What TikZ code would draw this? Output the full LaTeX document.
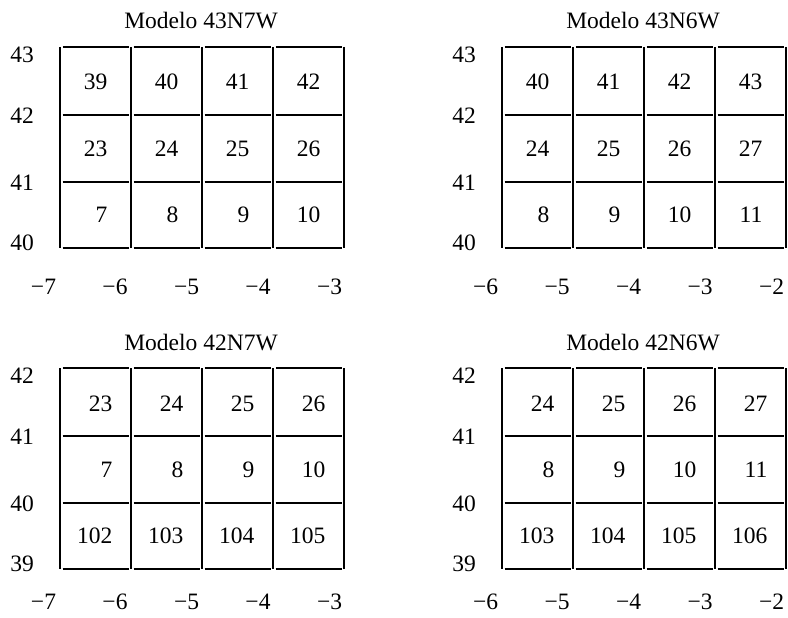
\documentclass[tikz,border=0pt]{standalone}
\usepackage{fontspec}
\setmainfont{Liberation Serif}
\tikzset{
  lbl/.style={font=\fontsize{23.5}{28}\selectfont, inner sep=0pt, anchor=base},
  num/.style={lbl, anchor=base east},
  gridline/.style={line width=1.3pt, black},
}
% #1 prefix, #2 xoff, #3 yoff, #4 title, #5 top y label, #6 first x label (abs), #7 numbers, #8 number offset, #9 x label baseline
\newcommand\mypanel[9]{%
\begin{scope}[shift={(#2,#3)}]
  \node[lbl] (#1-t) at (201,29) {#4};
  \foreach \i in {0,...,4}
    \draw[gridline] ({60+71*\i},47) -- ({60+71*\i},248);
  \foreach \r in {47,115,182,248}
    \foreach \i in {0,...,3}
      \draw[gridline] ({60+71*\i+2.5},\r) -- ({60+71*\i+68.5},\r);
  \foreach \yy [count=\k from 0] in {62.5,123.5,190.5,250.5}{
    \pgfmathtruncatemacro\lv{#5-\k}
    \node[lbl] (#1-y\k) at (22,\yy) {\lv};
  }
  \foreach \k in {0,...,4}{
    \pgfmathtruncatemacro\xv{#6-\k}
    \node[lbl] (#1-x\k) at ({43.5+71.5*\k},#9) {−\xv};
  }
  \foreach \v [count=\k from 0] in {#7}{
    \pgfmathtruncatemacro\cc{mod(\k,4)}
    \pgfmathtruncatemacro\rr{int(\k/4)}
    \node[num] (#1-n\k) at ({60+71*\cc+35.5+#8},{90+66*\rr}) {\v};
  }
\end{scope}}
\begin{document}
\begin{tikzpicture}[x=1pt,y=-1pt]
  \useasboundingbox (0,0) rectangle (788,618);
  \mypanel{a}{0}{0}{Modelo 43N7W}{43}{7}{39,40,41,42,23,24,25,26,7,8,9,10}{12}{294}
  \mypanel{b}{442}{0}{Modelo 43N6W}{43}{6}{40,41,42,43,24,25,26,27,8,9,10,11}{12}{294}
  \mypanel{c}{0}{321}{Modelo 42N7W}{42}{7}{23,24,25,26,7,8,9,10,102,103,104,105}{17}{288}
  \mypanel{d}{442}{321}{Modelo 42N6W}{42}{6}{24,25,26,27,8,9,10,11,103,104,105,106}{17}{288}
\end{tikzpicture}
\end{document}
